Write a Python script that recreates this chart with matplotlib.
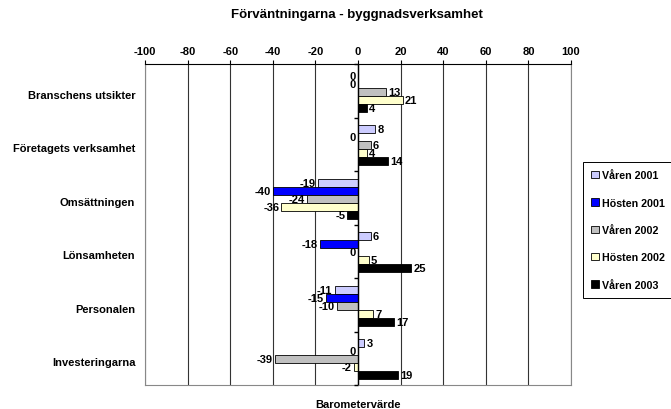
import numpy as np
import matplotlib
matplotlib.use('Agg')
import matplotlib.pyplot as plt
from matplotlib.patches import Rectangle

plt.rcParams['font.family'] = ['Liberation Sans', 'DejaVu Sans']
plt.rcParams['font.weight'] = 'bold'
plt.rcParams['axes.unicode_minus'] = False

# Kategorier och serier
kategorier = ['Branschens utsikter', 'Företagets verksamhet', 'Omsättningen',
              'Lönsamheten', 'Personalen', 'Investeringarna']
serier = ['Våren 2001', 'Hösten 2001', 'Våren 2002', 'Hösten 2002', 'Våren 2003']

varen_2001 = [0, 8, -19, 6, -11, 3]
hosten_2001 = [0, 0, -40, -18, -15, 0]
varen_2002 = [13, 6, -24, 0, -10, -39]
hosten_2002 = [21, 4, -36, 5, 7, -2]
varen_2003 = [4, 14, -5, 25, 17, 19]

farger = ['#CCCCFF', '#0000FF', '#C0C0C0', '#FFFFCC', '#000000']
varden = [varen_2001, hosten_2001, varen_2002, hosten_2002, varen_2003]

W, H = 671, 410
fig = plt.figure(figsize=(W / 100, H / 100), dpi=100)
ax = fig.add_axes([145 / W, 1 - 386 / H, 426 / W, 321 / H])

y = np.arange(len(kategorier))
h = 0.15
for j, (namn, farg, v) in enumerate(zip(serier, farger, varden)):
    pos = y + (j - 2) * h + 0.02
    ax.barh(pos, v, height=h, color=farg, edgecolor='black', linewidth=0.6,
            label=namn, zorder=3)
    for p, val in zip(pos, v):
        if val > 0:
            ax.text(val + 1, p, str(val), ha='left', va='center',
                    fontsize=8, fontweight='bold', zorder=4)
        else:
            ax.text(val - 1, p, str(val), ha='right', va='center',
                    fontsize=8, fontweight='bold', zorder=4)

ax.set_xlim(-100, 100)
ax.set_ylim(len(kategorier) - 0.5, -0.5)
ax.set_xticks(np.arange(-100, 101, 20))
ax.xaxis.tick_top()
ax.tick_params(axis='x', length=3, labelsize=8, pad=3, color='black')
ax.set_yticks(y + 0.06)
ax.set_yticklabels(kategorier, fontsize=8, fontweight='bold')
ax.tick_params(axis='y', length=0, pad=7)
for lbl in ax.get_xticklabels():
    lbl.set_fontweight('bold')

ax.grid(axis='x', color='#333333', linewidth=0.8, zorder=0)
ax.axvline(0, color='black', linewidth=1.0, zorder=5)
# Markeringar mellan grupperna på nollaxeln
grans = np.arange(-0.5, len(kategorier) + 0.5, 1.0)
ax.plot(np.zeros_like(grans), grans, linestyle='none', marker=0,
        markersize=3, color='black', clip_on=False, zorder=5)

ax.spines['top'].set_color('black')
for s in ['left', 'right', 'bottom']:
    ax.spines[s].set_color('#888888')

ax.set_xlabel('Barometervärde', fontsize=8, fontweight='bold', labelpad=10)

fig.text(357 / W, 1 - 15 / H, 'Förväntningarna - byggnadsverksamhet',
         ha='center', va='center', fontsize=9.5, fontweight='bold')

# Förklaring med egen ram
fig.patches.append(Rectangle((583 / W, 1 - 299 / H), 92 / W, 136 / H,
                             transform=fig.transFigure, facecolor='white',
                             edgecolor='black', linewidth=0.7, zorder=1))
leg = fig.legend(loc='upper left', bbox_to_anchor=(586 / W, 1 - 166 / H),
                 fontsize=7.7, frameon=False,
                 handlelength=0.7, handleheight=0.7, handletextpad=0.3,
                 labelspacing=1.62, borderpad=0.5, borderaxespad=0)
leg.set_zorder(2)
for t in leg.get_texts():
    t.set_fontweight('bold')
for hd in leg.legend_handles:
    hd.set_linewidth(0.6)

fig.savefig('out.png', dpi=100)
